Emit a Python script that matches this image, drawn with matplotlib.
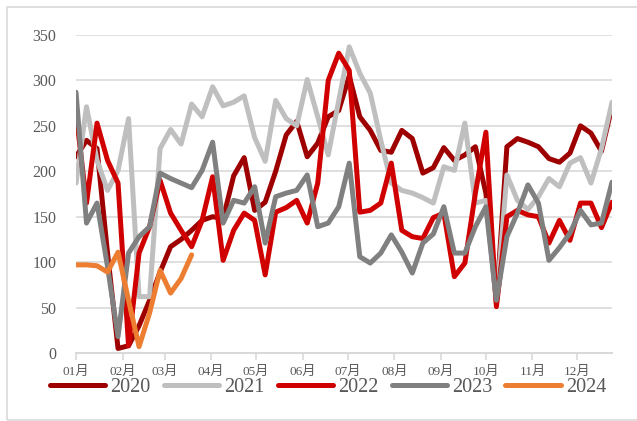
import matplotlib
matplotlib.use("Agg")
import matplotlib.pyplot as plt
import matplotlib.dates as mdates
from matplotlib.patches import Rectangle
import pandas as pd

plt.rcParams['font.family'] = ['Liberation Serif', 'Noto Sans CJK SC']

# weekly values, one list per year
v2020 = [216, 234, 225, 110, 5, 8, 30, 58, 89, 117, 125, 135, 146, 150, 148, 195,
         215, 157, 166, 200, 240, 255, 216, 231, 260, 267, 305, 260, 245, 223, 221, 245,
         236, 198, 204, 226, 212, 218, 227, 176, 55, 227, 236, 232, 227, 214, 210, 220,
         250, 242, 222, 271]
v2021 = [187, 271, 212, 179, 201, 258, 62, 62, 225, 246, 230, 274, 260, 293, 272, 276,
         283, 237, 211, 278, 258, 250, 301, 260, 218, 278, 337, 308, 286, 234, 187, 179,
         176, 171, 165, 205, 201, 253, 165, 168, 55, 196, 168, 158, 172, 192, 183, 209,
         215, 187, 225, 276]
v2022 = [265, 165, 253, 212, 187, 8, 110, 139, 190, 154, 135, 117, 146, 194, 102, 135,
         154, 146, 86, 155, 160, 168, 143, 187, 300, 330, 311, 155, 157, 165, 209, 135,
         128, 126, 149, 154, 84, 99, 176, 243, 51, 150, 157, 152, 150, 121, 146, 124,
         165, 165, 138, 166]
v2023 = [287, 143, 165, 95, 18, 110, 128, 139, 198, 192, 187, 182, 201, 232, 143, 168,
         165, 183, 121, 172, 176, 179, 196, 139, 143, 161, 209, 106, 99, 110, 130, 111,
         88, 121, 131, 161, 110, 110, 139, 161, 58, 128, 154, 185, 165, 102, 116, 132,
         157, 141, 143, 188]
v2024 = [97, 97, 96, 89, 111, 58, 7, 44, 91, 66, 82, 108]

years = ['2020', '2021', '2022', '2023', '2024']
colors = ['#9E0000', '#BFBFBF', '#D00000', '#808080', '#ED7D31']

weeks = pd.date_range('2023-01-01', periods=52, freq='7D')

fig = plt.figure(figsize=(6.37, 4.21), dpi=100)
ax = fig.add_axes([76 / 637, 1 - 353 / 421, 536 / 637, 318 / 421])

for name, vals, c in zip(years, [v2020, v2021, v2022, v2023, v2024], colors):
    ax.plot(weeks[:len(vals)], vals, color=c, lw=3.6, label=name,
            solid_joinstyle='round', solid_capstyle='round')

ax.set_ylim(0, 350)
ax.set_yticks(range(0, 351, 50))
ax.set_xlim(weeks[0], weeks[-1])
ax.xaxis.set_major_locator(mdates.MonthLocator())
ax.xaxis.set_major_formatter(mdates.DateFormatter('%m月'))

ax.grid(axis='y', color='#D9D9D9', lw=1.2)
ax.set_axisbelow(True)
for s in ['left', 'right', 'top']:
    ax.spines[s].set_visible(False)
ax.spines['bottom'].set_color('#D9D9D9')
ax.spines['bottom'].set_linewidth(1.5)
ax.tick_params(axis='y', length=0, pad=14, labelsize=11.5, labelcolor='#595959')
ax.tick_params(axis='x', length=5, width=1.2, color='#D9D9D9', pad=4,
               labelsize=9.5, labelcolor='#595959')

leg = fig.legend(loc='center', bbox_to_anchor=(0.515, 0.079), ncol=5, frameon=False,
                 fontsize=14.5, handlelength=2.75, handletextpad=0.25, columnspacing=0.65,
                 labelcolor='#595959')

# outer frame
fig.patches.append(Rectangle((7 / 637, 1 / 421), 640 / 637, 413 / 421,
                             transform=fig.transFigure, fill=False,
                             edgecolor='#D9D9D9', lw=1.2))

fig.savefig('out.png', dpi=100)
